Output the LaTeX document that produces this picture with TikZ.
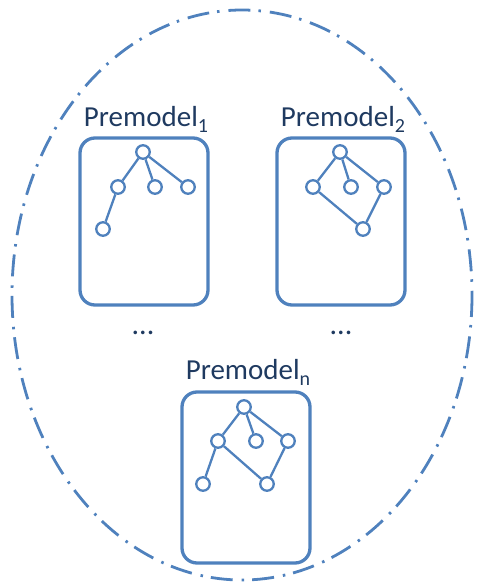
\documentclass[tikz,border=0pt]{standalone}
\usepackage{fontspec}
\setmainfont{Carlito}
\definecolor{lineblue}{HTML}{4F81BD}
\definecolor{textnavy}{HTML}{1F3A60}
% lowered index after a premodel name
\newcommand\pmindex[1]{\raisebox{-6pt}{\fontsize{20}{22}\selectfont #1}}
\begin{document}
\begin{tikzpicture}[x=1pt,y=-1pt,
  vert/.style={circle,draw=lineblue,line width=2.3pt,fill=white,inner sep=0pt,minimum size=13.5pt},
  edge/.style={draw=lineblue,line width=2.3pt},
  pmbox/.style={draw=lineblue,line width=3.3pt,rounded corners=15pt},
  pmlabel/.style={anchor=base,text=textnavy,font=\fontsize{29}{34}\selectfont,inner sep=0pt},
  dots/.style={anchor=base,text=textnavy,font=\fontsize{30}{34}\selectfont,inner sep=0pt}]
\useasboundingbox (0,0) rectangle (477,583);

% enclosing ellipse
\draw[lineblue,line width=2.8pt,dash pattern=on 22pt off 8pt on 2.5pt off 9pt]
  (242,295) ellipse [x radius=230,y radius=285];

% premodel boxes
\draw[pmbox] (80,138) rectangle (208,305);
\draw[pmbox] (277,138) rectangle (405,305);
\draw[pmbox] (182,392) rectangle (310,563);

% labels
\node[pmlabel] (l1) at (146,126) {Premodel\pmindex{1}};
\node[pmlabel] (l2) at (343,126) {Premodel\pmindex{2}};
\node[pmlabel] (ln) at (248,379) {Premodel\pmindex{n}};

\node[dots] (d1) at (143,334) {...};
\node[dots] (d2) at (341,334) {...};

% premodel 1
\node[vert] (a0) at (143,152) {};
\node[vert] (a1) at (118,187) {};
\node[vert] (a2) at (155,187) {};
\node[vert] (a3) at (188,187) {};
\node[vert] (a4) at (103,229) {};
\draw[edge] (a0) -- (a1) (a0) -- (a2) (a0) -- (a3) (a1) -- (a4);

% premodel 2
\node[vert] (b0) at (340,152) {};
\node[vert] (b1) at (313,187) {};
\node[vert] (b2) at (351,187) {};
\node[vert] (b3) at (384,187) {};
\node[vert] (b4) at (363,229) {};
\draw[edge] (b0) -- (b1) (b0) -- (b2) (b0) -- (b3) (b1) -- (b4) (b3) -- (b4);

% premodel n
\node[vert] (c0) at (244,407) {};
\node[vert] (c1) at (218,441) {};
\node[vert] (c2) at (256,441) {};
\node[vert] (c3) at (288,441) {};
\node[vert] (c4) at (203,484) {};
\node[vert] (c5) at (267,484) {};
\draw[edge] (c0) -- (c1) (c0) -- (c2) (c0) -- (c3) (c1) -- (c4) (c1) -- (c5) (c3) -- (c5);
\end{tikzpicture}
\end{document}
